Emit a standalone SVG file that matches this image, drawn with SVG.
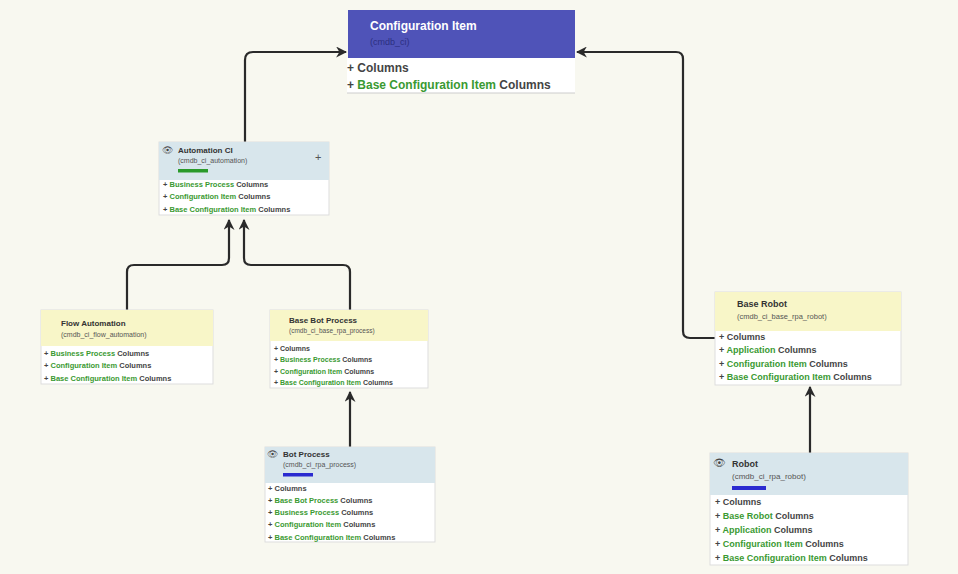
<svg xmlns="http://www.w3.org/2000/svg" width="958" height="574" viewBox="0 0 958 574">
<defs>
<marker id="ah" viewBox="0 0 10 10" refX="9" refY="5" markerWidth="5" markerHeight="5" orient="auto-start-reverse"><path d="M0,0 L10,5 L0,10 L3,5 z" fill="#2a2a2a"/></marker>
</defs>
<style>
text{font-family:"Liberation Sans",Arial,sans-serif;fill:#444}
.t{font-weight:bold;fill:#333}
.g{fill:#3a9a32;font-weight:bold}
.b{font-weight:bold}
.s{fill:#555}
.box{fill:#fff;stroke:#ddd;stroke-width:1}
.hb{fill:#d8e6ec}
.hy{fill:#f8f6c8}
.c{fill:none;stroke:#2a2a2a;stroke-width:2.2;marker-end:url(#ah)}
</style>
<rect width="958" height="574" fill="#f8f8f0"/>
<g id="connectors">
<path class="c" d="M245,142 V60 Q245,52 253,52 H346"/>
<path class="c" d="M715,338 H690 Q683,338 683,331 V59 Q683,52 676,52 H577"/>
<path class="c" d="M127,310 V272 Q127,265 134,265 H222 Q229,265 229,258 V220"/>
<path class="c" d="M350,310 V272 Q350,265 343,265 H251 Q244,265 244,258 V220"/>
<path class="c" d="M350,447 V392"/>
<path class="c" d="M810,453 V387"/>
</g>
<g id="ci">
<rect x="347" y="58" width="228" height="35" fill="#fff"/>
<line x1="347" y1="93" x2="575" y2="93" stroke="#ccc"/>
<rect x="348" y="10" width="227" height="48" fill="#4f53b8"/>
<text x="370" y="30" font-size="12" font-weight="bold" style="fill:#fff">Configuration Item</text>
<text x="370" y="45" font-size="9" style="fill:#2c2f80">(cmdb_ci)</text>
<text x="347" y="72" font-size="12" class="b">+ Columns</text>
<text x="347" y="89" font-size="12" class="b">+ <tspan class="g">Base Configuration Item</tspan> Columns</text>
</g>
<g id="automation" font-size="7.5">
<rect class="box" x="159" y="142" width="170" height="73"/>
<rect class="hb" x="159" y="142" width="170" height="38"/>
<text x="162" y="153" font-size="9">👁</text>
<text x="178" y="153" font-size="8" class="t">Automation CI</text>
<text x="178" y="163" font-size="7" class="s">(cmdb_ci_automation)</text>
<rect x="178" y="169" width="30" height="3.5" fill="#2a9a2a"/>
<text x="315" y="161" font-size="11" class="s">+</text>
<text x="163" y="187" class="b">+ <tspan class="g">Business Process</tspan> Columns</text>
<text x="163" y="199" class="b">+ <tspan class="g">Configuration Item</tspan> Columns</text>
<text x="163" y="212" class="b">+ <tspan class="g">Base Configuration Item</tspan> Columns</text>
</g>
<g id="flow" font-size="7.5">
<rect class="box" x="41" y="310" width="172" height="74"/>
<rect class="hy" x="41" y="310" width="172" height="36"/>
<text x="61" y="326" font-size="8" class="t">Flow Automation</text>
<text x="61" y="337" font-size="7" class="s">(cmdb_ci_flow_automation)</text>
<text x="44" y="356" class="b">+ <tspan class="g">Business Process</tspan> Columns</text>
<text x="44" y="368" class="b">+ <tspan class="g">Configuration Item</tspan> Columns</text>
<text x="44" y="381" class="b">+ <tspan class="g">Base Configuration Item</tspan> Columns</text>
</g>
<g id="basebot" font-size="7">
<rect class="box" x="270" y="310" width="158" height="78"/>
<rect class="hy" x="270" y="310" width="158" height="31"/>
<text x="289" y="323" font-size="8" class="t">Base Bot Process</text>
<text x="289" y="333" font-size="6.5" class="s">(cmdb_ci_base_rpa_process)</text>
<text x="274" y="351" class="b">+ Columns</text>
<text x="274" y="362" class="b">+ <tspan class="g">Business Process</tspan> Columns</text>
<text x="274" y="374" class="b">+ <tspan class="g">Configuration Item</tspan> Columns</text>
<text x="274" y="385" class="b">+ <tspan class="g">Base Configuration Item</tspan> Columns</text>
</g>
<g id="bot" font-size="7.5">
<rect class="box" x="265" y="447" width="170" height="95"/>
<rect class="hb" x="265" y="447" width="170" height="36"/>
<text x="267" y="457" font-size="9">👁</text>
<text x="283" y="457" font-size="8" class="t">Bot Process</text>
<text x="283" y="467" font-size="7" class="s">(cmdb_ci_rpa_process)</text>
<rect x="283" y="473" width="30" height="3.5" fill="#2b2bd0"/>
<text x="268" y="491" class="b">+ Columns</text>
<text x="268" y="503" class="b">+ <tspan class="g">Base Bot Process</tspan> Columns</text>
<text x="268" y="515" class="b">+ <tspan class="g">Business Process</tspan> Columns</text>
<text x="268" y="527" class="b">+ <tspan class="g">Configuration Item</tspan> Columns</text>
<text x="268" y="540" class="b">+ <tspan class="g">Base Configuration Item</tspan> Columns</text>
</g>
<g id="baserobot" font-size="9">
<rect class="box" x="715" y="292" width="186" height="93"/>
<rect class="hy" x="715" y="292" width="186" height="39"/>
<text x="737" y="307" font-size="9" class="t">Base Robot</text>
<text x="737" y="319" font-size="7.5" class="s">(cmdb_ci_base_rpa_robot)</text>
<text x="719" y="340" class="b">+ Columns</text>
<text x="719" y="353" class="b">+ <tspan class="g">Application</tspan> Columns</text>
<text x="719" y="367" class="b">+ <tspan class="g">Configuration Item</tspan> Columns</text>
<text x="719" y="380" class="b">+ <tspan class="g">Base Configuration Item</tspan> Columns</text>
</g>
<g id="robot" font-size="9">
<rect class="box" x="710" y="453" width="198" height="112"/>
<rect class="hb" x="710" y="453" width="198" height="42"/>
<text x="713" y="466" font-size="10">👁</text>
<text x="732" y="467" font-size="9" class="t">Robot</text>
<text x="732" y="479" font-size="8" class="s">(cmdb_ci_rpa_robot)</text>
<rect x="732" y="486" width="34" height="4" fill="#2b2bd0"/>
<text x="715" y="505" class="b">+ Columns</text>
<text x="715" y="519" class="b">+ <tspan class="g">Base Robot</tspan> Columns</text>
<text x="715" y="533" class="b">+ <tspan class="g">Application</tspan> Columns</text>
<text x="715" y="547" class="b">+ <tspan class="g">Configuration Item</tspan> Columns</text>
<text x="715" y="561" class="b">+ <tspan class="g">Base Configuration Item</tspan> Columns</text>
</g>
</svg>
